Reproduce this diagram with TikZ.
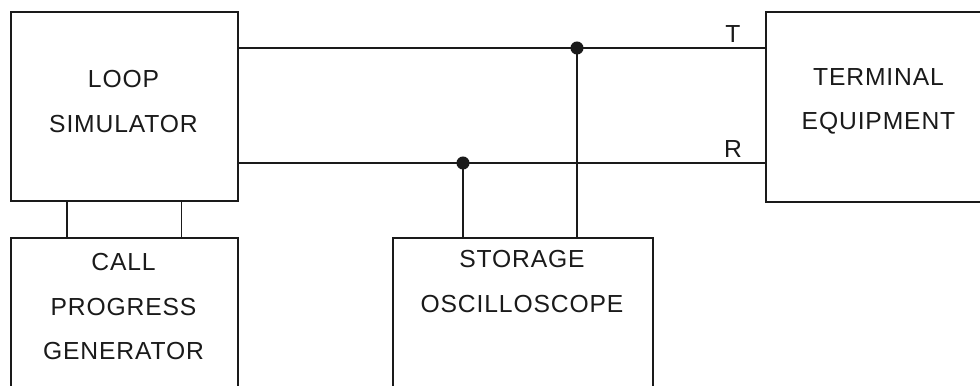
\documentclass[tikz,border=0pt]{standalone}
\usepackage{fontspec}
\setmainfont{Liberation Sans}[LetterSpace=3.5]
\usetikzlibrary{calc,positioning}
\definecolor{Ink}{HTML}{1A1A1A}

\begin{document}
\begin{tikzpicture}[x=0.75pt, y=-0.75pt,
    block/.style={draw=Ink, line width=1.3pt, anchor=north west, inner sep=0pt},
    caption/.style={align=center, anchor=north, inner sep=0pt, text=Ink,
        font=\fontsize{18.5}{33.4}\selectfont},
    lineTag/.style={anchor=base, inner sep=0pt, text=Ink, font=\fontsize{18.5}{22}\selectfont},
    wire/.style={draw=Ink, line width=1.3pt}]

    \def\px{0.75pt}

    \useasboundingbox (0,0) rectangle (980,385);
    \clip (0,0) rectangle (980,385);

    % Blocks
    \node[block, minimum width=227*\px, minimum height=189*\px] (loop) at (10,11) {};
    \node[block, minimum width=227*\px, minimum height=200*\px] (cpg) at (10,237) {};
    \node[block, minimum width=260*\px, minimum height=200*\px] (osc) at (392,237) {};
    \node[block, minimum width=227*\px, minimum height=190*\px] (term) at (765,11) {};

    % Texts
    \node[caption] (loop-txt) at (123.5,70) {LOOP\\SIMULATOR};
    \node[caption] (cpg-txt) at (123.5,253) {CALL\\PROGRESS\\GENERATOR};
    \node[caption] (osc-txt) at (522,250) {STORAGE\\OSCILLOSCOPE};
    \node[caption] (term-txt) at (878.5,68) {TERMINAL\\EQUIPMENT};

    % Tip and ring
    \coordinate (tJoin) at (577,48);
    \coordinate (rJoin) at (463,163);
    \draw[wire] (loop.east |- tJoin) -- (term.west |- tJoin);
    \draw[wire] (loop.east |- rJoin) -- (term.west |- rJoin);
    \node[lineTag] (tTag) at (733,43) {T};
    \node[lineTag] (rTag) at (733,157) {R};

    % Probes
    \draw[wire] (tJoin) -- (tJoin |- osc.north);
    \draw[wire] (rJoin) -- (rJoin |- osc.north);

    % Generator feed
    \foreach \a in {0.25,0.75} {
        \draw[wire] ($(loop.south west)!\a!(loop.south east)$) -- ($(cpg.north west)!\a!(cpg.north east)$);
    }

    \foreach \j in {tJoin,rJoin} {
        \fill[Ink] (\j) circle (4.9pt);
    }

\end{tikzpicture}
\end{document}
